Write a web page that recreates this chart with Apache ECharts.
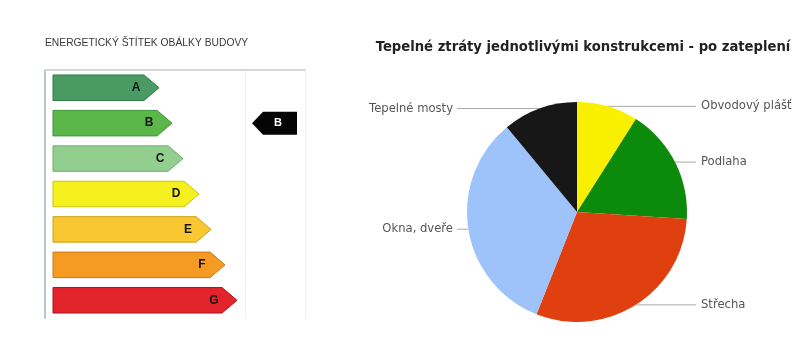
<!DOCTYPE html>
<html>
<head>
<meta charset="utf-8">
<script src="https://cdn.jsdelivr.net/npm/echarts@6/dist/echarts.min.js"></script>
<style>html,body{margin:0;padding:0;background:#fff;}#c{width:805px;height:340px;}</style>
</head>
<body>
<div id="c"></div>
<script>
// ---- data ----
const classes = ['A', 'B', 'C', 'D', 'E', 'F', 'G'];
const classLengths = [114, 127, 138, 154, 166, 180, 192];
const classColors = ['#4a9b63', '#5cb74b', '#92cf8e', '#f6f01f', '#f8c732', '#f59a22', '#e2232b'];
const classBorders = ['#2f7a48', '#3f9434', '#6fae6b', '#c9c30a', '#caa018', '#c97a10', '#b01218'];
const buildingRating = ['B'];

const pieNames = ['Obvodový plášť', 'Podlaha', 'Střecha', 'Okna, dveře', 'Tepelné mosty'];
const pieValues = [9, 17, 30, 33, 11];
const pieColors = ['#f9f000', '#0b8a0b', '#e0400f', '#9dc3fa', '#171717'];

const leftTitle = 'ENERGETICKÝ ŠTÍTEK OBÁLKY BUDOVY';
const rightTitle = 'Tepelné ztráty jednotlivými konstrukcemi - po zateplení';

const chart = echarts.init(document.getElementById('c'), null, {renderer: 'canvas'});
const pieCx = 577, pieCy = 212, pieR = 110;

function arrowItem(params, api) {
  const idx = api.value(0);
  const len = api.value(1);
  const s = api.coord([8, idx]);
  const e = api.coord([len, idx]);
  const h = api.size([0, 1])[1] * 0.72;
  const cy = s[1];
  const tip = 15;
  return {
    type: 'group',
    children: [{
      type: 'polygon',
      shape: {points: [[s[0], cy - h / 2], [e[0] - tip, cy - h / 2], [e[0], cy], [e[0] - tip, cy + h / 2], [s[0], cy + h / 2]]},
      style: {fill: classColors[idx], stroke: classBorders[idx], lineWidth: 1}
    }, {
      type: 'text',
      x: e[0] - 23, y: cy,
      style: {text: classes[idx], fill: '#151515', font: 'bold 12px "Liberation Sans", Arial, sans-serif', align: 'center', verticalAlign: 'middle'}
    }]
  };
}

function markerItem(params, api) {
  const idx = classes.indexOf(buildingRating[params.dataIndex]);
  const a = api.coord([207, idx]);
  const b = api.coord([218, idx]);
  const c = api.coord([252, idx]);
  const h = api.size([0, 1])[1] * 0.65;
  const cy = a[1];
  return {
    type: 'group',
    children: [{
      type: 'polygon',
      shape: {points: [[a[0], cy], [b[0], cy - h / 2], [c[0], cy - h / 2], [c[0], cy + h / 2], [b[0], cy + h / 2]]},
      style: {fill: '#050505'}
    }, {
      type: 'text',
      x: (b[0] + c[0]) / 2 - 2, y: cy,
      style: {text: buildingRating[params.dataIndex], fill: '#fff', font: 'bold 11px "Liberation Sans", Arial, sans-serif', align: 'center', verticalAlign: 'middle'}
    }]
  };
}

chart.setOption({
  animation: false,
  backgroundColor: '#fff',
  title: [{
    text: leftTitle, left: 40, top: 33,
    textStyle: {fontSize: 10.3, fontWeight: 'normal', color: '#3a3a3a', fontFamily: '"Liberation Sans", Arial, sans-serif'}
  }, {
    text: rightTitle, left: 578, top: 36, textAlign: 'center',
    textStyle: {fontSize: 13.2, fontWeight: 'bold', color: '#222', fontFamily: '"DejaVu Sans", sans-serif'}
  }],
  grid: {left: 45, top: 70, width: 260, height: 248},
  xAxis: {
    type: 'value', min: 0, max: 260, interval: 200, position: 'top',
    axisLine: {show: true, lineStyle: {color: '#d4d8da', width: 2}},
    axisTick: {show: false}, axisLabel: {show: false},
    splitLine: {show: true, lineStyle: {color: '#f0f0f0', width: 1}}
  },
  yAxis: {
    type: 'category', data: classes, inverse: true,
    axisLine: {show: true, lineStyle: {color: '#b9c5c9', width: 2}},
    axisTick: {show: false}, axisLabel: {show: false}, splitLine: {show: false}
  },
  series: [{
    type: 'custom',
    renderItem: arrowItem,
    data: classes.map((c, i) => [i, classLengths[i]]),
    encode: {x: 1, y: 0},
    silent: true
  }, {
    type: 'custom',
    renderItem: markerItem,
    data: buildingRating.map(r => [classes.indexOf(r), 252]),
    encode: {x: 1, y: 0},
    silent: true
  }, {
    type: 'pie',
    center: [pieCx, pieCy],
    radius: pieR,
    startAngle: 90,
    clockwise: true,
    avoidLabelOverlap: false,
    data: pieNames.map((n, i) => ({name: n, value: pieValues[i], itemStyle: {color: pieColors[i]}})),
    itemStyle: {borderWidth: 0},
    label: {show: true, position: 'outside', formatter: '{b}', color: '#555', fontSize: 11.6, fontFamily: '"DejaVu Sans", sans-serif'},
    labelLine: {show: true, length: 5, length2: 5, smooth: false, lineStyle: {color: '#aaa', width: 1}},
    labelLayout: function (p) {
      const pts = p.labelLinePoints;
      if (!pts) return {};
      const right = pts[0][0] > pieCx;
      const y = pts[0][1];
      return {
        x: right ? 701 : 453,
        y: y,
        align: right ? 'left' : 'right',
        verticalAlign: 'middle',
        labelLinePoints: [pts[0], pts[0], [right ? 696 : 457, y]]
      };
    },
    emphasis: {disabled: true}
  }]
});
</script>
</body>
</html>
